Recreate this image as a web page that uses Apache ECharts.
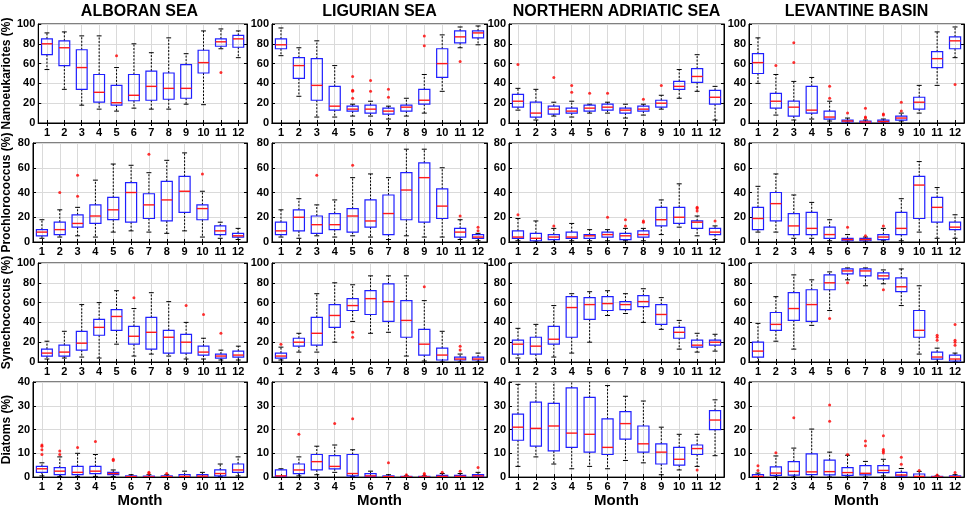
<!DOCTYPE html>
<html>
<head>
<meta charset="utf-8">
<script src="https://cdn.jsdelivr.net/npm/echarts@6/dist/echarts.min.js"></script>
<style>
html, body { margin: 0; background: #fff; }
#chart { width: 970px; height: 509px; }
</style>
</head>
<body>
<div id="chart"></div>
<script>
// mesi e nomi dei pannelli
const months = [1, 2, 3, 4, 5, 6, 7, 8, 9, 10, 11, 12];
const regions = ['ALBORAN SEA', 'LIGURIAN SEA', 'NORTHERN ADRIATIC SEA', 'LEVANTINE BASIN'];
const groups = ['Nanoeukariotes (%)', 'Prochlorococcus (%)', 'Synechococcus (%)', 'Diatoms (%)'];
const yMax = [100, 80, 100, 40];
const yStep = [20, 20, 20, 10];

// box stats per month: [min, q1, median, q3, max]
// ---- Alboran Sea
const alboranNano = [[54,69,80,85,91],[34,58,76,83,92],[18,34,56,74,88],[14,21,31,49,88],[12,18,20.5,38,56],[15,22.5,28,49,80],
  [14,23,37,52.5,71],[14,24,35,50.5,86],[19,25,35,59,70],[18.5,50.5,61,73.5,93],[75,77.5,82,85,95],[66,76.5,85,88.5,93]];
const alboranNanoOut = [[5,68],[11,51]];
const alboranProc = [[3,5,8,10,18],[4,6,10,16,26],[5,12,15,22,28],[4,15,21,30,50],[8,18,26,36,63],[9,16,40,48,62],
  [8,19,30,39,56],[7,17,34,49,66],[9,24,41,53,72],[4,18,27,30,41],[3,6,9,13,16],[2,4,5,7,11]];
const alboranProcOut = [[2,40],[3,37],[3,54],[7,71],[10,55]];
const alboranSyn = [[3,6,9,13,21],[4,6,10,17,31],[5,12,19,31,58],[4,27,35,43,60],[18,32,46,53,72],[6,18,26,36,54],
  [8,13,30,45,70],[6,9,25,32,61],[3,9,20,28,40],[3,7,10,16,24],[2,4,6,8,12],[2,5,7,11,16]];
const alboranSynOut = [[6,65],[9,57],[10,48],[11,29]];
const alboranDia = [[0.5,2,3.5,4.5,6],[0.3,1,2.5,4,8.5],[0.3,1,2,4.5,10],[0.3,1.5,2.5,4.5,9.5],[0.2,1,1.5,2,3],[0,0,0.2,0.5,1],
  [0,0,0.1,0.4,1],[0,0,0.2,0.5,1],[0,0.1,0.3,1,2.5],[0,0.1,0.4,1,2],[0.2,0.5,1.5,3,5.5],[0.5,2,3,5.5,8.5]];
const alboranDiaOut = [[1,9.5],[1,11.5],[1,13],[1,13.5],[2,9.5],[2,11],[3,12.5],[4,15],[5,7],[5,7.5],[7,1.5],[7,2],[8,1.5]];

// ---- Ligurian Sea
const ligurianNano = [[68,75,79,85,96],[27,45,58,66,76],[6,23,38,65,83],[6,13,17,37,58],[7,12,14,17,19],[7,10,14,18,22],
  [4,9,12,15,17],[7,12,16,18,25],[10,19,23,34,49],[32,46,60,75,89],[76,81,87,93,97],[79,86,91,93,98]];
const ligurianNanoOut = [[5,25],[5,32],[5,33],[5,47],[6,32],[6,43],[7,26],[7,34],[9,78],[9,88],[11,62]];
const ligurianProc = [[4,6,9,16,26],[3,9,20,26,35],[5,7,14,21,30],[4,10,14,23,34],[5,8,21,27,52],[4,12,17,34,55],
  [2,6,23,38,52],[5,18,42,56,75],[4,16,52,64,75],[4,19,29,43,60],[2,4,8,11,18],[1,3,4,6,7]];
const ligurianProcOut = [[3,54],[5,62],[11,21],[12,9],[12,12]];
const ligurianSyn = [[2,4,6,9,15],[10,16,20,24,29],[10,17,29,45,69],[20,35,47,58,80],[41,52,57,64,78],[29,48,64,72,87],
  [30,41,61,79,87],[6,25,42,62,87],[1,7,18,33,62],[0,2,7,14,31],[0,2,3,5,8],[0,2,3,5,9]];
const ligurianSynOut = [[1,18],[5,30],[5,25],[9,76],[11,12],[11,16]];
const ligurianDia = [[0,0.3,0.5,3,3.5],[0.5,1.5,3,5.5,8.5],[1,3,6.5,9.5,13],[2,3.5,4.5,9,13.5],[0.2,0.5,1.5,9.5,11.5],[0,0.3,0.5,1.5,2.5],
  [0,0.1,0.2,0.5,1],[0,0,0.1,0.3,0.5],[0,0,0.1,0.3,0.5],[0,0.1,0.3,0.7,1.5],[0,0.1,0.3,0.7,1.5],[0,0.3,0.5,1,2]];
const ligurianDiaOut = [[2,18],[4,22.5],[5,24.5],[7,6],[8,1],[9,1],[9,1.5],[10,2],[11,2.5],[12,4]];

// ---- Northern Adriatic Sea
const adriaticNano = [[13,16,22,29,35],[3,6,10,21,34],[7,9,14,17,21],[6,10,12,15,22],[10,12,15,18,19],[10,13,16,19,21],
  [5,10,13,15,19],[8,12,14,17,19],[14,16,20,23,28],[25,34,37,42,54],[32,41,47,55,69],[3,19,26,33,37]];
const adriaticNanoOut = [[1,59],[3,46],[4,31],[4,38],[5,30],[6,30],[8,24],[9,38]];
const adriaticProc = [[1,3,4,9,19],[0,1,3,7,17],[0,2,4,6,11],[1,3,4,8,15],[1,3,5,6,10],[1,4,6,8,10],
  [1,2,5,7,11],[1,4,6,9,11],[6,13,18,28,34],[12,15,20,28,47],[5,11,16,17,21],[2,6,8,11,13]];
const adriaticProcOut = [[1,22],[3,13],[6,20],[7,13],[7,18],[8,16],[8,17],[11,25],[11,27],[11,28],[12,17]];
const adriaticSyn = [[4,8,18,22,34],[0,8,16,25,38],[5,18,23,36,57],[9,25,55,66,69],[20,43,58,65,71],[47,52,59,66,72],
  [49,53,58,61,69],[40,56,61,67,74],[33,38,48,58,65],[13,24,30,35,42],[10,15,17,22,29],[11,17,20,22,28]];
const adriaticSynOut = [];
const adriaticDia = [[4.5,15.5,21,26.5,39],[8.5,13,20.5,31.5,44],[5.5,11,21.5,31,44],[3.5,12.5,18.5,37.5,44],[4.5,10.5,18,33.5,44],[3.5,9.5,12.5,24.5,38.5],
  [7,16,22.5,27.5,34],[6,10.5,14,21.5,32],[1,5.5,10.5,14,21],[3,5,7.5,12.5,18],[4.5,9.5,12,13.5,18],[9,20,24,28,32.5]];
const adriaticDiaOut = [[11,3]];

// ---- Levantine Basin
const levantineNano = [[40,50,61,70,86],[8,15,22,30,49],[3,7,16,22,42],[4,10,13,37,46],[2,4,6,12,22],[0,1,2,3,5],
  [0,0.5,1,2,3],[0,1,1.5,3,4],[2,3,5,7,10],[10,14,21,26,38],[38,56,65,72,92],[66,75,83,87,97]];
const levantineNanoOut = [[2,58],[3,61],[3,81],[5,25],[5,37],[6,10],[7,5],[7,6],[7,15],[8,8],[8,9],[9,12],[9,21],[12,39]];
const levantineProc = [[8,10,19,28,45],[8,17,31,40,55],[3,6,13,23,38],[3,6,11,24,32],[1,3,6,12,18],[0,1,2,3,6],
  [0,1,2,3,4],[1,2,4,6,11],[1,6,11,24,35],[8,19,46,53,65],[3,16,28,36,44],[3,10,12,16,22]];
const levantineProcOut = [[6,12],[7,5],[8,13]];
const levantineSyn = [[0,5,11,20,39],[21,32,38,50,66],[13,42,54,70,88],[37,41,58,73,83],[52,73,80,88,91],[83,89,92,94,95],
  [77,87,92,94,95],[79,84,87,90,93],[57,71,76,85,94],[8,25,32,52,77],[0,3,5,10,14],[0,1,3,7,9]];
const levantineSynOut = [[5,44],[6,80],[8,73],[11,22],[11,25],[11,27],[12,17],[12,20],[12,22],[12,38]];
const levantineDia = [[0,0.1,0.3,1,1.7],[0,0.7,1.7,4.3,8.9],[0,0.8,2.4,6.5,12.2],[0,1,2.2,9.8,20.2],[0,0.9,2.3,7.1,10.5],[0,0.7,1.9,4,9.2],
  [0,0.9,1.6,4.8,6.6],[0.5,1.9,2.8,4.8,7.5],[0,0.4,0.9,2,3.6],[0,0.1,0.3,1.3,2.4],[0,0,0.1,0.3,0.5],[0,0,0.2,0.5,1]];
const levantineDiaOut = [[1,2.8],[1,4.8],[2,10.2],[3,25],[5,23.5],[5,30.3],[6,9.5],[7,13.2],[7,15.2],[8,10.1],[8,10.9],[8,11.6],[8,17.4],[9,5.4],[9,8.3],[10,2.8],[11,0.9],[12,1.9]];

// panels[riga][colonna]
const boxes = [
  [alboranNano, ligurianNano, adriaticNano, levantineNano],
  [alboranProc, ligurianProc, adriaticProc, levantineProc],
  [alboranSyn, ligurianSyn, adriaticSyn, levantineSyn],
  [alboranDia, ligurianDia, adriaticDia, levantineDia]
];
const outliers = [
  [alboranNanoOut, ligurianNanoOut, adriaticNanoOut, levantineNanoOut],
  [alboranProcOut, ligurianProcOut, adriaticProcOut, levantineProcOut],
  [alboranSynOut, ligurianSynOut, adriaticSynOut, levantineSynOut],
  [alboranDiaOut, ligurianDiaOut, adriaticDiaOut, levantineDiaOut]
];

// layout
const gridLeft = [32, 272, 509, 749];
const gridTop = [24, 143, 263, 382];
const gridW = 215, gridH = 99;
const FONT = '"Liberation Sans", Arial, sans-serif';

// disegna un box stile matlab
function renderBox(params, api) {
  let x = api.value(0);
  let lo = api.coord([x, api.value(1)]);
  let q1 = api.coord([x, api.value(2)]);
  let md = api.coord([x, api.value(3)]);
  let q3 = api.coord([x, api.value(4)]);
  let hi = api.coord([x, api.value(5)]);
  let half = api.size([0.62, 0])[0] / 2;
  let cap = half * 0.45;
  let cx = md[0];
  let dash = { stroke: '#000', lineWidth: 1, lineDash: [2, 1.5] };
  let solid = { stroke: '#000', lineWidth: 1 };
  return {
    type: 'group',
    children: [
      { type: 'line', shape: { x1: cx, y1: q3[1], x2: cx, y2: hi[1] }, style: dash },
      { type: 'line', shape: { x1: cx, y1: q1[1], x2: cx, y2: lo[1] }, style: dash },
      { type: 'line', shape: { x1: cx - cap, y1: hi[1], x2: cx + cap, y2: hi[1] }, style: solid },
      { type: 'line', shape: { x1: cx - cap, y1: lo[1], x2: cx + cap, y2: lo[1] }, style: solid },
      { type: 'rect', shape: { x: cx - half, y: q3[1], width: half * 2, height: q1[1] - q3[1] },
        style: { fill: 'none', stroke: '#1f1fff', lineWidth: 1.2 } },
      { type: 'line', shape: { x1: cx - half, y1: md[1], x2: cx + half, y2: md[1] },
        style: { stroke: '#ff1a1a', lineWidth: 1.4 } }
    ]
  };
}

let chart = echarts.init(document.getElementById('chart'));
let grid = [], xAxis = [], yAxis = [], series = [];
let graphic = [];

for (let r = 0; r < 4; r++) {
  for (let c = 0; c < 4; c++) {
    let i = r * 4 + c;
    grid.push({ left: gridLeft[c], top: gridTop[r], width: gridW, height: gridH,
      show: true, borderColor: '#000', borderWidth: 1, backgroundColor: '#fff' });
    xAxis.push({
      gridIndex: i, type: 'value', min: 0.5, max: 12.5,
      name: r === 3 ? 'Month' : '', nameLocation: 'middle', nameGap: 13,
      nameTextStyle: { fontFamily: FONT, fontWeight: 'bold', fontSize: 15, color: '#000' },
      axisLine: { lineStyle: { color: '#000' } },
      axisTick: { inside: true, length: 3, customValues: months, lineStyle: { color: '#000' } },
      axisLabel: { customValues: months, margin: 4, fontFamily: FONT, fontWeight: 'bold', fontSize: 11, color: '#000' },
      splitLine: { show: true, lineStyle: { color: '#dadada', width: 1 } }
    });
    // asse in alto solo per i tick interni
    xAxis.push({
      gridIndex: i, type: 'value', min: 0.5, max: 12.5, position: 'top',
      axisLine: { lineStyle: { color: '#000' } },
      axisTick: { inside: true, length: 3, customValues: months, lineStyle: { color: '#000' } },
      axisLabel: { show: false }, splitLine: { show: false }
    });
    yAxis.push({
      gridIndex: i, type: 'value', min: 0, max: yMax[r], interval: yStep[r],
      name: c === 0 ? groups[r] : '', nameLocation: 'middle', nameGap: 20, nameRotate: 90,
      nameTextStyle: { fontFamily: FONT, fontWeight: 'bold', fontSize: 12, color: '#000' },
      axisLine: { show: true, lineStyle: { color: '#000' } },
      axisTick: { show: true, inside: true, length: 3, lineStyle: { color: '#000' } },
      axisLabel: { margin: 3, fontFamily: FONT, fontWeight: 'bold', fontSize: 11, color: '#000' },
      splitLine: { show: true, lineStyle: { color: '#dadada', width: 1 } }
    });
    yAxis.push({
      gridIndex: i, type: 'value', min: 0, max: yMax[r], interval: yStep[r], position: 'right',
      axisLine: { show: true, lineStyle: { color: '#000' } },
      axisTick: { show: true, inside: true, length: 3, lineStyle: { color: '#000' } },
      axisLabel: { show: false }, splitLine: { show: false }
    });
    series.push({
      type: 'custom', xAxisIndex: i * 2, yAxisIndex: i * 2, clip: true,
      renderItem: renderBox,
      encode: { x: 0, y: [1, 2, 3, 4, 5] },
      data: boxes[r][c].map((b, k) => [months[k]].concat(b))
    });
    series.push({
      type: 'scatter', xAxisIndex: i * 2, yAxisIndex: i * 2,
      symbol: 'circle', symbolSize: 3, itemStyle: { color: '#ff0000' },
      data: outliers[r][c], z: 3
    });
  }
}

// titoli delle colonne
for (let c = 0; c < 4; c++) {
  graphic.push({
    type: 'text', x: gridLeft[c] + gridW / 2, y: 4,
    style: { text: regions[c], font: 'bold 16px ' + FONT, fill: '#000', textAlign: 'center', textVerticalAlign: 'top' }
  });
}

chart.setOption({
  animation: false,
  backgroundColor: '#fff',
  grid: grid,
  xAxis: xAxis,
  yAxis: yAxis,
  series: series,
  graphic: graphic
});
</script>
</body>
</html>
